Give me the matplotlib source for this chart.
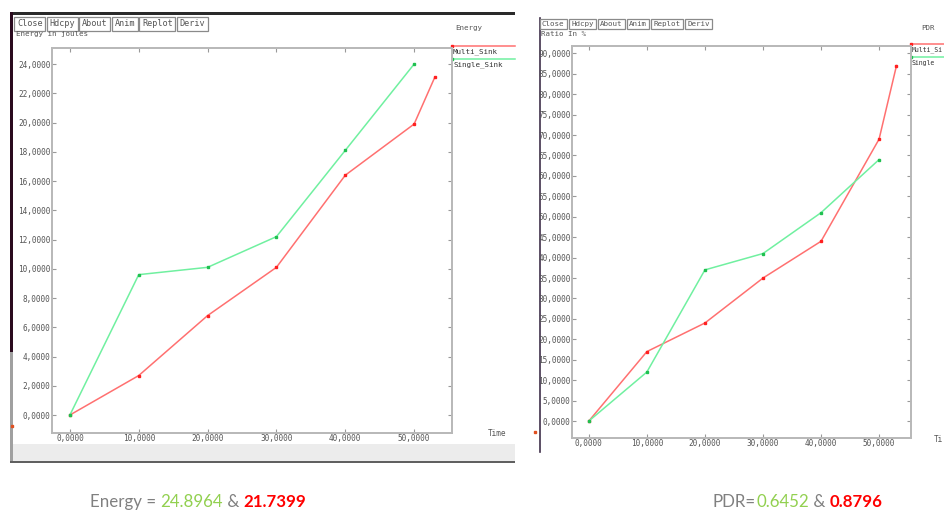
import matplotlib.pyplot as plt
from matplotlib.patches import Rectangle

W, H = 944, 511

# ---- data ----
time_pts = [0, 10, 20, 30, 40, 50]
time_multi = [0, 10, 20, 30, 40, 50, 53]

energy_multi = [0.0, 2.7, 6.8, 10.1, 16.4, 19.9, 23.1]
energy_single = [0.0, 9.6, 10.1, 12.2, 18.1, 24.0]

pdr_multi = [0, 17, 24, 35, 44, 69, 87]
pdr_single = [0, 12, 37, 41, 51, 64]

x_ticks = [0, 10, 20, 30, 40, 50]
energy_ticks = list(range(0, 25, 2))
pdr_ticks = list(range(0, 91, 5))

buttons = ["Close", "Hdcpy", "About", "Anim", "Replot", "Deriv"]

RED = "#ff7070"
GREEN = "#70f0a0"
MONO = "DejaVu Sans Mono"
TXT = "#555555"

fig = plt.figure(figsize=(W / 100, H / 100), dpi=100)
bg = fig.add_axes([0, 0, 1, 1])
bg.set_xlim(0, W)
bg.set_ylim(H, 0)
bg.axis("off")


def px_axes(left, top, right, bottom):
    return fig.add_axes([left / W, 1 - bottom / H, (right - left) / W, (bottom - top) / H])


def fmt(v):
    return f"{v:.4f}".replace(".", ",")


def panel(rect, xlim, ylim, yticks, multi, single, ylabel, title, btn_x, btn_size,
          legend_x, legend_labels, legend_size, time_label):
    ax = px_axes(*rect)
    ax.plot(time_multi, multi, color=RED, lw=1.1, marker="s", ms=2, mfc="#ff2020", mec="#ff2020")
    ax.plot(time_pts, single, color=GREEN, lw=1.1, marker="s", ms=2, mfc="#20c050", mec="#20c050")
    ax.set_xlim(*xlim)
    ax.set_ylim(*ylim)
    ax.set_xticks(x_ticks)
    ax.set_xticklabels([fmt(v) for v in x_ticks])
    ax.set_yticks(yticks)
    ax.set_yticklabels([fmt(v) for v in yticks])
    ax.tick_params(direction="in", length=3, width=0.8, color="#999999", labelsize=5.6,
                   labelcolor=TXT, top=True, right=True, pad=1)
    for lab in ax.get_xticklabels() + ax.get_yticklabels():
        lab.set_family(MONO)
    for s in ax.spines.values():
        s.set_color("#b8b8b8")
        s.set_linewidth(1.4)

    # window buttons
    cw = 0.6 * btn_size * 100 / 72
    x = btn_x
    for b in buttons:
        bg.text(x, 24, b, fontsize=btn_size, family=MONO, color=TXT, va="center", ha="left",
                bbox=dict(boxstyle="square,pad=0.3", fc="white", ec="#8a8a8a", lw=0.9))
        x += len(b) * cw + cw + 2
    bg.text(btn_x - 1, 34, ylabel, fontsize=5.4, family=MONO, color=TXT, va="center")
    bg.text(title[1], 28, title[0], fontsize=5.4, family=MONO, color=TXT, va="center")
    bg.text(time_label[1], time_label[2], time_label[0], fontsize=5.6, family=MONO,
            color=TXT, va="center")

    # legend
    top = rect[1]
    bg.plot([rect[2], legend_x], [top - 2, top - 2], color=RED, lw=1.1)
    bg.plot([rect[2]], [top - 2], "s", ms=2, color="#ff2020")
    bg.plot([rect[2], legend_x], [top + 11, top + 11], color=GREEN, lw=1.1)
    bg.plot([rect[2]], [top + 11], "s", ms=2, color="#20c050")
    bg.text(rect[2] + 1, top + 4, legend_labels[0], fontsize=legend_size, family=MONO,
            color="#333333", va="center")
    bg.text(rect[2] + 1, top + 17, legend_labels[1], fontsize=legend_size, family=MONO,
            color="#333333", va="center")
    return ax


# ---- window decorations ----
bg.add_patch(Rectangle((10, 12), 505, 3, fc="#2a2a2a", ec="none"))
bg.add_patch(Rectangle((10, 12), 3, 340, fc="#2a0a1e", ec="none"))
bg.add_patch(Rectangle((10, 352), 3, 110, fc="#a0a0a0", ec="none"))
bg.add_patch(Rectangle((13, 444), 502, 17, fc="#ececec", ec="none"))
bg.add_patch(Rectangle((10, 461), 505, 2, fc="#606060", ec="none"))
bg.plot([11.5], [426], "s", ms=2, color="#e05020")
bg.plot([540, 540], [18, 452], color="#40304a", lw=1.2)
bg.plot([535], [432], "s", ms=1.5, color="#e05020")

# ---- left: energy ----
panel((52, 48, 452, 433), (-2.6, 55.5), (-1.23, 25.1), energy_ticks,
      energy_multi, energy_single, "Energy in joules", ("Energy", 455), 17, 6.1, 515,
      ["Multi_Sink", "Single_Sink"], 5.4, ("Time", 488, 433))

# ---- right: PDR ----
panel((572, 46, 911, 438), (-2.9, 55.5), (-4.15, 91.8), pdr_ticks,
      pdr_multi, pdr_single, "Ratio In %", ("PDR", 921), 542, 5.4, 944,
      ["Multi_Si", "Single"], 4.7, ("Ti", 934, 439))

# ---- captions ----
renderer = fig.canvas.get_renderer()


def caption(x, y, parts):
    for s, c, w in parts:
        t = fig.text(x / W, 1 - y / H, s, color=c, fontsize=12.2, family="Lato", weight=w, va="center")
        bb = t.get_window_extent(renderer)
        x += bb.width


caption(90, 502, [("Energy = ", "#808080", "normal"), ("24.8964", "#92d050", "normal"),
                  (" & ", "#808080", "normal"), ("21.7399", "#ff0000", "bold")])
caption(713, 502, [("PDR=", "#808080", "normal"), ("0.6452", "#92d050", "normal"),
                   (" & ", "#808080", "normal"), ("0.8796", "#ff0000", "bold")])

fig.savefig("out.png", dpi=100)
